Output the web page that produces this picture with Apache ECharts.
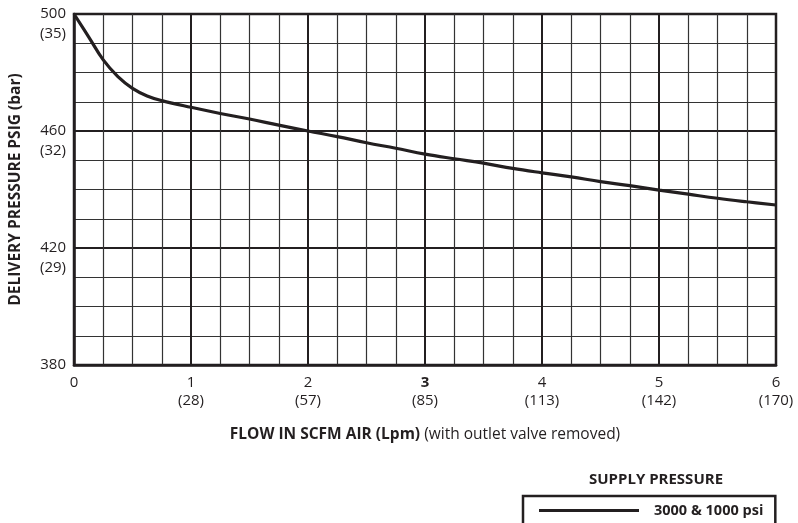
<!DOCTYPE html>
<html>
<head>
<meta charset="utf-8">
<script src="https://cdn.jsdelivr.net/npm/echarts@6/dist/echarts.min.js"></script>
<style>
html,body{margin:0;padding:0;background:#fff;}
#chart{width:798px;height:523px;}
</style>
</head>
<body>
<div id="chart"></div>
<script>
// Flow (SCFM) and delivery pressure (psig)
const flowScfm = [0, 0.125, 0.25, 0.375, 0.5, 0.625, 0.75, 1.0, 1.25, 1.5, 1.75, 2.0, 2.25, 2.5, 2.75, 3.0, 3.25, 3.5, 3.75, 4.0, 4.25, 4.5, 4.75, 5.0, 5.25, 5.5, 5.75, 6.0];
const pressurePsig = [500, 492.2, 484.3, 478.6, 474.6, 472.0, 470.4, 468.1, 466.0, 464.1, 462.0, 460.0, 458.1, 456.0, 454.1, 452.1, 450.5, 449.0, 447.2, 445.7, 444.3, 442.7, 441.3, 439.8, 438.4, 437.0, 435.8, 434.7];
const xTickLpm = {1: '(28)', 2: '(57)', 3: '(85)', 4: '(113)', 5: '(142)', 6: '(170)'};
const yTickBar = {500: '(35)', 460: '(32)', 420: '(29)'};
const seriesName = '3000 & 1000 psi';

const FONT = 'Open Sans';
const INK = '#231f20';
const chart = echarts.init(document.getElementById('chart'));
chart.setOption({
  animation: false,
  textStyle: {fontFamily: FONT, color: INK},
  grid: {left: 74, top: 14, right: 22, bottom: 158, show: true, borderColor: INK, borderWidth: 2.5, backgroundColor: 'transparent', containLabel: false, outerBoundsMode: 'none'},
  title: {
    text: 'SUPPLY PRESSURE', left: 651, top: 467, textAlign: 'center',
    textStyle: {fontFamily: FONT, fontSize: 15, fontWeight: 'bold', color: INK}
  },
  legend: {
    left: 523, top: 496,
    padding: [7, 12, 40, 16],
    borderColor: INK, borderWidth: 2.5,
    itemWidth: 100, itemHeight: 16,
    icon: 'path://M0,6.5 L100,6.5 L100,9.5 L0,9.5 Z',
    textStyle: {fontFamily: FONT, fontSize: 14.5, fontWeight: 'bold', color: INK, padding: [0, 0, 0, 10]},
    data: [seriesName]
  },
  xAxis: {
    type: 'value', min: 0, max: 6, interval: 1,
    name: '{b|FLOW IN SCFM AIR (Lpm)} (with outlet valve removed)',
    nameLocation: 'middle', nameGap: 62,
    nameTextStyle: {fontFamily: FONT, fontSize: 15.5, color: INK, rich: {b: {fontFamily: FONT, fontSize: 15.5, fontWeight: 'bold', color: INK}}},
    axisLine: {show: true, lineStyle: {color: INK, width: 2.5}},
    axisTick: {show: false},
    splitLine: {show: true, lineStyle: {color: INK, width: 2}},
    minorTick: {show: false, splitNumber: 4},
    minorSplitLine: {show: true, lineStyle: {color: '#333', width: 1.2}},
    axisLabel: {
      margin: 9, fontSize: 15, color: INK, lineHeight: 18,
      formatter: function (v) {
        const k = Math.round(v);
        const main = k === 3 ? '{b|3}' : String(k);
        return xTickLpm[k] ? main + '\n' + xTickLpm[k] : main;
      },
      rich: {b: {fontWeight: 'bold', fontSize: 15, color: INK, fontFamily: FONT, lineHeight: 18}}
    }
  },
  yAxis: {
    type: 'value', min: 380, max: 500, interval: 40,
    name: 'DELIVERY PRESSURE PSIG (bar)',
    nameLocation: 'middle', nameGap: 50,
    nameTextStyle: {fontFamily: FONT, fontSize: 15.5, fontWeight: 'bold', color: INK},
    axisLine: {show: true, lineStyle: {color: INK, width: 2.5}},
    axisTick: {show: false},
    splitLine: {show: true, lineStyle: {color: INK, width: 2}},
    minorTick: {show: false, splitNumber: 4},
    minorSplitLine: {show: true, lineStyle: {color: '#333', width: 1.2}},
    axisLabel: {
      margin: 8, fontSize: 15, color: INK, lineHeight: 20,
      formatter: function (v) {
        const k = Math.round(v);
        return yTickBar[k] ? ' \n' + k + '\n' + yTickBar[k] : String(k);
      }
    }
  },
  series: [{
    name: seriesName,
    type: 'line',
    data: flowScfm.map((x, i) => [x, pressurePsig[i]]),
    smooth: 0.4,
    showSymbol: false,
    symbol: 'none',
    lineStyle: {color: INK, width: 3.2},
    itemStyle: {color: INK}
  }]
});
</script>
</body>
</html>
